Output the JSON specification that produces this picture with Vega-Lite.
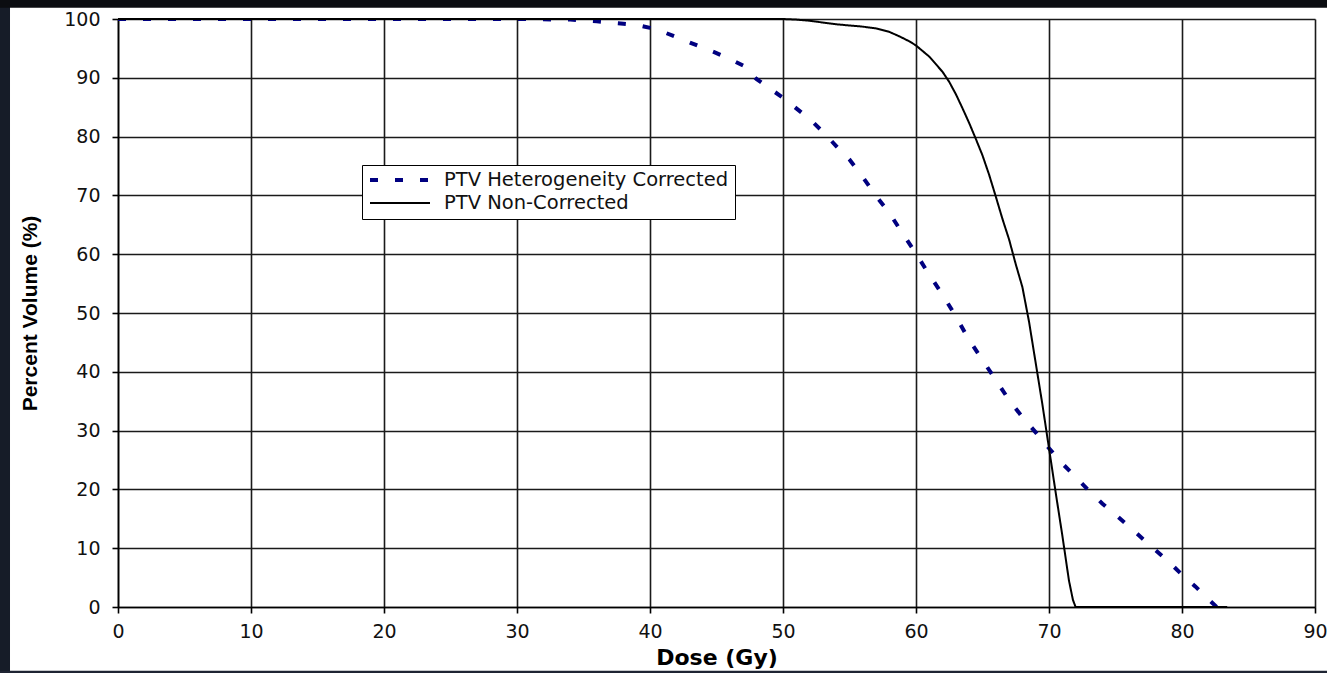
{
  "$schema": "https://vega.github.io/schema/vega-lite/v6.json",
  "width": 1197,
  "height": 588,
  "autosize": {"type": "none"},
  "padding": {"left": 118, "top": 19, "right": 12, "bottom": 66},
  "background": "#ffffff",
  "config": {
    "view": {"stroke": null},
    "axis": {
      "gridColor": "#1a1a1a",
      "gridWidth": 1.6,
      "gridOpacity": 1,
      "domainColor": "#000000",
      "domainWidth": 1.6,
      "tickColor": "#000000",
      "tickWidth": 1.6,
      "tickSize": 6,
      "labelFont": "DejaVu Sans",
      "labelFontSize": 19,
      "labelColor": "#111111",
      "labelFlush": false,
      "titleColor": "#000000",
      "titleFontWeight": "bold"
    },
    "legend": {
      "orient": "none",
      "legendX": 244,
      "legendY": 146,
      "strokeColor": "#000000",
      "fillColor": "#ffffff",
      "padding": 6,
      "symbolType": "stroke",
      "symbolSize": 3600,
      "clipHeight": 18,
      "labelFont": "DejaVu Sans",
      "labelFontSize": 19.5,
      "labelColor": "#111111",
      "labelOffset": 12,
      "rowPadding": 3,
      "labelLimit": 400
    }
  },
  "data": {
    "values": [
      {"series": "PTV Heterogeneity Corrected", "dose": 0, "volume": 100},
      {"series": "PTV Heterogeneity Corrected", "dose": 30, "volume": 100},
      {"series": "PTV Heterogeneity Corrected", "dose": 34, "volume": 99.9},
      {"series": "PTV Heterogeneity Corrected", "dose": 36, "volume": 99.6},
      {"series": "PTV Heterogeneity Corrected", "dose": 38, "volume": 99.2},
      {"series": "PTV Heterogeneity Corrected", "dose": 39, "volume": 99.0},
      {"series": "PTV Heterogeneity Corrected", "dose": 40, "volume": 98.5},
      {"series": "PTV Heterogeneity Corrected", "dose": 41, "volume": 97.8},
      {"series": "PTV Heterogeneity Corrected", "dose": 42, "volume": 96.9},
      {"series": "PTV Heterogeneity Corrected", "dose": 43, "volume": 96.0},
      {"series": "PTV Heterogeneity Corrected", "dose": 44, "volume": 95.1},
      {"series": "PTV Heterogeneity Corrected", "dose": 45, "volume": 94.2},
      {"series": "PTV Heterogeneity Corrected", "dose": 46, "volume": 93.2},
      {"series": "PTV Heterogeneity Corrected", "dose": 47, "volume": 92.1},
      {"series": "PTV Heterogeneity Corrected", "dose": 48, "volume": 89.8},
      {"series": "PTV Heterogeneity Corrected", "dose": 49, "volume": 88.2},
      {"series": "PTV Heterogeneity Corrected", "dose": 50, "volume": 86.6},
      {"series": "PTV Heterogeneity Corrected", "dose": 51, "volume": 84.8},
      {"series": "PTV Heterogeneity Corrected", "dose": 52, "volume": 83.0},
      {"series": "PTV Heterogeneity Corrected", "dose": 53, "volume": 80.8},
      {"series": "PTV Heterogeneity Corrected", "dose": 54, "volume": 78.4},
      {"series": "PTV Heterogeneity Corrected", "dose": 55, "volume": 76.1},
      {"series": "PTV Heterogeneity Corrected", "dose": 56, "volume": 73.1},
      {"series": "PTV Heterogeneity Corrected", "dose": 57, "volume": 69.9},
      {"series": "PTV Heterogeneity Corrected", "dose": 58, "volume": 67.0},
      {"series": "PTV Heterogeneity Corrected", "dose": 59, "volume": 63.5},
      {"series": "PTV Heterogeneity Corrected", "dose": 60, "volume": 60.1},
      {"series": "PTV Heterogeneity Corrected", "dose": 61, "volume": 56.5},
      {"series": "PTV Heterogeneity Corrected", "dose": 62, "volume": 53.1},
      {"series": "PTV Heterogeneity Corrected", "dose": 63, "volume": 49.4},
      {"series": "PTV Heterogeneity Corrected", "dose": 64, "volume": 45.4},
      {"series": "PTV Heterogeneity Corrected", "dose": 65, "volume": 42.0},
      {"series": "PTV Heterogeneity Corrected", "dose": 66, "volume": 38.6},
      {"series": "PTV Heterogeneity Corrected", "dose": 67, "volume": 35.2},
      {"series": "PTV Heterogeneity Corrected", "dose": 68, "volume": 32.3},
      {"series": "PTV Heterogeneity Corrected", "dose": 69, "volume": 29.7},
      {"series": "PTV Heterogeneity Corrected", "dose": 70, "volume": 27.0},
      {"series": "PTV Heterogeneity Corrected", "dose": 71, "volume": 24.4},
      {"series": "PTV Heterogeneity Corrected", "dose": 72, "volume": 22.1},
      {"series": "PTV Heterogeneity Corrected", "dose": 73, "volume": 19.8},
      {"series": "PTV Heterogeneity Corrected", "dose": 74, "volume": 17.6},
      {"series": "PTV Heterogeneity Corrected", "dose": 75, "volume": 15.7},
      {"series": "PTV Heterogeneity Corrected", "dose": 76, "volume": 13.7},
      {"series": "PTV Heterogeneity Corrected", "dose": 77, "volume": 11.7},
      {"series": "PTV Heterogeneity Corrected", "dose": 78, "volume": 9.7},
      {"series": "PTV Heterogeneity Corrected", "dose": 79, "volume": 7.7},
      {"series": "PTV Heterogeneity Corrected", "dose": 80, "volume": 5.5},
      {"series": "PTV Heterogeneity Corrected", "dose": 81, "volume": 3.5},
      {"series": "PTV Heterogeneity Corrected", "dose": 82, "volume": 1.3},
      {"series": "PTV Heterogeneity Corrected", "dose": 82.6, "volume": 0},
      {"series": "PTV Non-Corrected", "dose": 0, "volume": 100},
      {"series": "PTV Non-Corrected", "dose": 50, "volume": 100},
      {"series": "PTV Non-Corrected", "dose": 51, "volume": 99.9},
      {"series": "PTV Non-Corrected", "dose": 52, "volume": 99.7},
      {"series": "PTV Non-Corrected", "dose": 53, "volume": 99.4},
      {"series": "PTV Non-Corrected", "dose": 54, "volume": 99.1},
      {"series": "PTV Non-Corrected", "dose": 55, "volume": 98.9},
      {"series": "PTV Non-Corrected", "dose": 56, "volume": 98.7},
      {"series": "PTV Non-Corrected", "dose": 57, "volume": 98.4},
      {"series": "PTV Non-Corrected", "dose": 58, "volume": 97.8},
      {"series": "PTV Non-Corrected", "dose": 58.8, "volume": 97.0},
      {"series": "PTV Non-Corrected", "dose": 59.5, "volume": 96.2},
      {"series": "PTV Non-Corrected", "dose": 60, "volume": 95.5},
      {"series": "PTV Non-Corrected", "dose": 61, "volume": 93.6},
      {"series": "PTV Non-Corrected", "dose": 62, "volume": 91.0},
      {"series": "PTV Non-Corrected", "dose": 62.5, "volume": 89.3},
      {"series": "PTV Non-Corrected", "dose": 63, "volume": 87.2},
      {"series": "PTV Non-Corrected", "dose": 63.5, "volume": 84.8},
      {"series": "PTV Non-Corrected", "dose": 64, "volume": 82.3},
      {"series": "PTV Non-Corrected", "dose": 64.5, "volume": 79.6},
      {"series": "PTV Non-Corrected", "dose": 65, "volume": 76.8},
      {"series": "PTV Non-Corrected", "dose": 65.5, "volume": 73.5},
      {"series": "PTV Non-Corrected", "dose": 66, "volume": 69.8},
      {"series": "PTV Non-Corrected", "dose": 66.5, "volume": 66.0},
      {"series": "PTV Non-Corrected", "dose": 67, "volume": 62.5},
      {"series": "PTV Non-Corrected", "dose": 67.5, "volume": 58.3},
      {"series": "PTV Non-Corrected", "dose": 68, "volume": 54.4},
      {"series": "PTV Non-Corrected", "dose": 68.5, "volume": 48.5},
      {"series": "PTV Non-Corrected", "dose": 69, "volume": 41.5},
      {"series": "PTV Non-Corrected", "dose": 69.5, "volume": 34.5},
      {"series": "PTV Non-Corrected", "dose": 70, "volume": 27.0},
      {"series": "PTV Non-Corrected", "dose": 70.5, "volume": 19.5},
      {"series": "PTV Non-Corrected", "dose": 71, "volume": 12.2},
      {"series": "PTV Non-Corrected", "dose": 71.5, "volume": 4.5},
      {"series": "PTV Non-Corrected", "dose": 71.8, "volume": 1.2},
      {"series": "PTV Non-Corrected", "dose": 72, "volume": 0},
      {"series": "PTV Non-Corrected", "dose": 83.4, "volume": 0}
    ]
  },
  "layer": [
    {
      "encoding": {
        "x": {
          "field": "dose",
          "type": "quantitative",
          "scale": {"domain": [0, 90], "nice": false},
          "axis": {
            "title": "Dose (Gy)",
            "titleFont": "DejaVu Sans",
            "titleFontSize": 22,
            "titlePadding": 6,
            "values": [0, 10, 20, 30, 40, 50, 60, 70, 80, 90],
            "labelPadding": 9,
            "grid": true
          }
        },
        "y": {
          "field": "volume",
          "type": "quantitative",
          "scale": {"domain": [0, 100], "nice": false},
          "axis": {
            "title": "Percent Volume (%)",
            "titleFont": "Liberation Sans",
            "titleFontSize": 21,
            "titlePadding": 23,
            "values": [0, 10, 20, 30, 40, 50, 60, 70, 80, 90, 100],
            "labelPadding": 12,
            "grid": true
          }
        },
        "color": {
          "field": "series",
          "type": "nominal",
          "scale": {"domain": ["PTV Heterogeneity Corrected", "PTV Non-Corrected"], "range": ["#000080", "#000000"]},
          "legend": {"title": null}
        },
        "strokeDash": {
          "field": "series",
          "type": "nominal",
          "scale": {"domain": ["PTV Heterogeneity Corrected", "PTV Non-Corrected"], "range": [[8, 17], [1, 0]]},
          "legend": {"title": null}
        },
        "strokeWidth": {
          "field": "series",
          "type": "nominal",
          "scale": {"domain": ["PTV Heterogeneity Corrected", "PTV Non-Corrected"], "range": [4, 2]},
          "legend": {"title": null}
        }
      },
      "layer": [
        {
          "transform": [{"filter": {"field": "series", "equal": "PTV Heterogeneity Corrected"}}],
          "mark": {"type": "line", "strokeCap": "butt", "clip": true}
        },
        {
          "transform": [{"filter": {"field": "series", "equal": "PTV Non-Corrected"}}],
          "mark": {"type": "line", "strokeCap": "butt"}
        }
      ]
    },
    {
      "data": {"values": [{"strip": "left"}]},
      "mark": {"type": "rect", "fill": "#161c28", "clip": false},
      "encoding": {
        "x": {"datum": -9.2},
        "x2": {"datum": -8.12},
        "y": {"datum": 104},
        "y2": {"datum": -11.5}
      }
    },
    {
      "data": {"values": [{"strip": "top"}]},
      "mark": {"type": "rect", "fill": "#0b0d11", "clip": false},
      "encoding": {
        "x": {"datum": -9.2},
        "x2": {"datum": 91},
        "y": {"datum": 104},
        "y2": {"datum": 101.9}
      }
    },
    {
      "data": {"values": [{"strip": "bottom"}]},
      "mark": {"type": "rect", "fill": "#1e2433", "clip": false},
      "encoding": {
        "x": {"datum": -9.2},
        "x2": {"datum": 91},
        "y": {"datum": -10.85},
        "y2": {"datum": -11.5}
      }
    }
  ]
}
